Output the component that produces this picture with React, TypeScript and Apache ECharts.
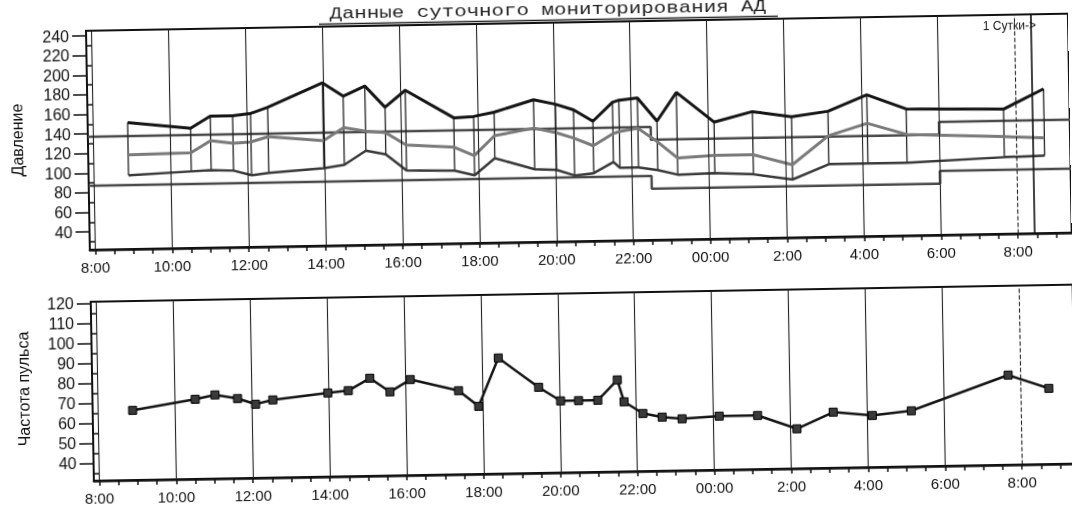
import React, { useEffect, useRef } from "react";
import * as echarts from "echarts";

const titleText = "Данные суточного мониторирования АД";
const pressureAxisName = "Давление";
const pulseAxisName = "Частота пульса";
const dayMarkLabel = "1 Сутки->";
const dayMarkTime = "08:25";

const xTickLabels = ["8:00", "10:00", "12:00", "14:00", "16:00", "18:00", "20:00", "22:00", "00:00", "2:00", "4:00", "6:00", "8:00"];
const pressureTickLabels = [40, 60, 80, 100, 120, 140, 160, 180, 200, 220, 240];
const pulseTickLabels = [40, 50, 60, 70, 80, 90, 100, 110, 120];

const measureTimes = ["08:54", "10:32", "11:03", "11:38", "12:06", "12:33", "13:59", "14:31", "15:05", "15:36", "16:08", "17:23", "17:54", "18:26", "19:28", "20:02", "20:30", "21:00", "21:31", "21:41", "22:10", "22:40", "23:11", "00:09", "01:09", "02:10", "03:07", "04:08", "05:09", "07:41", "08:44"];
const systolic = [151, 144, 156, 156, 158, 164, 188, 174, 184, 162, 179, 150, 151, 155, 167, 162, 156, 144, 163, 165, 167, 143, 172, 141, 151, 145, 150, 166, 151, 149, 169];
const meanPressure = [118, 119, 131, 128, 129, 134, 129, 142, 138, 136, 123, 120, 111, 131, 138, 133, 127, 119, 131, 133, 136, 122, 105, 107, 107, 96, 125, 137, 125, 121, 119];
const diastolic = [97, 100, 101, 100, 95, 97, 101, 104, 118, 114, 97, 96, 91, 108, 96, 95, 89, 91, 102, 96, 96, 93, 88, 89, 87, 81, 96, 96, 96, 100, 101];
const pulse = [66, 71, 73, 71, 68, 70, 73, 74, 80, 73, 79, 73, 65, 89, 74, 67, 67, 67, 77, 66, 60, 58, 57, 58, 58, 51, 59, 57, 59, 76, 69];

const limitStarts = ["08:00", "22:30", "06:00"];
const systolicLimits = [137, 124, 137];
const diastolicLimits = [87, 74, 87];

const X_MIN = -0.14;
const X_MAX = 25.4;

function toHours(list: string[]): number[] {
  let offset = 0;
  let prev = -Infinity;
  return list.map((s) => {
    const [hh, mm] = s.split(":").map(Number);
    const raw = hh + mm / 60 - 8;
    let v = raw + offset;
    while (v < prev) {
      offset += 24;
      v = raw + offset;
    }
    prev = v;
    return v;
  });
}

const measureH = toHours(measureTimes);
const limitH = toHours(limitStarts);
const dayMarkH = toHours(["08:00", "23:00", dayMarkTime])[2];

const labelVals = xTickLabels.map((_, i) => i * 2);
const halfHours = Array.from({ length: 51 }, (_, i) => i * 0.5);

const FONT = "Liberation Sans, Arial, sans-serif";

function stepData(limits: number[]) {
  const pts: number[][] = limits.map((v, i) => [i === 0 ? X_MIN : limitH[i], v]);
  pts.push([X_MAX, limits[limits.length - 1]]);
  return pts;
}

function xAxisCfg(gridIndex: number) {
  return {
    type: "value",
    gridIndex,
    min: X_MIN,
    max: X_MAX,
    axisLine: { show: true, onZero: false, lineStyle: { color: "#111", width: 2.5 } },
    axisTick: { show: true, customValues: halfHours, length: 5, lineStyle: { color: "#111", width: 1.5 } },
    axisLabel: {
      show: true,
      customValues: labelVals,
      formatter: (v: number) => xTickLabels[Math.round(v / 2)] ?? "",
      margin: 10,
      fontSize: 15,
      fontFamily: FONT,
      color: "#111",
    },
    splitLine: { show: false },
  };
}

function yAxisCfg(gridIndex: number, min: number, max: number, labels: number[]) {
  return {
    type: "value",
    gridIndex,
    min,
    max,
    position: "left",
    axisLine: { show: true, onZero: false, lineStyle: { color: "#111", width: 2 } },
    axisTick: { show: true, customValues: labels, length: 14, lineStyle: { color: "#111", width: 1.5 } },
    axisLabel: { show: true, customValues: labels, margin: 17, fontSize: 16, fontFamily: FONT, color: "#111" },
    splitLine: { show: false },
  };
}

function yMinorCfg(gridIndex: number, min: number, max: number, ticks: number[]) {
  return {
    type: "value",
    gridIndex,
    min,
    max,
    position: "left",
    offset: 0,
    axisLine: { show: false },
    axisTick: { show: true, customValues: ticks, length: 6, lineStyle: { color: "#111", width: 1.5 } },
    axisLabel: { show: false },
    splitLine: { show: false },
  };
}

function gridLines(withDayMark: boolean) {
  const d: any[] = labelVals.map((v) => ({
    xAxis: v,
    lineStyle: { color: "#222", width: 1.1, type: v === 24 ? "dashed" : "solid" },
  }));
  if (withDayMark) d.push({ xAxis: dayMarkH, lineStyle: { color: "#111", width: 1.6, type: "solid" } });
  return d;
}

export default function App() {
  const ref = useRef<HTMLDivElement>(null);
  useEffect(() => {
    const chart = echarts.init(ref.current!, null, { renderer: "svg" });
    const option: any = {
      animation: false,
      backgroundColor: "#fff",
      grid: [
        { left: 90, top: 23, right: -10, height: 219, show: true, borderColor: "#111", borderWidth: 2 },
        { left: 90, top: 294, right: -10, height: 179, show: true, borderColor: "#111", borderWidth: 2 },
      ],
      xAxis: [xAxisCfg(0), xAxisCfg(1)],
      yAxis: [
        yAxisCfg(0, 21.8, 245.3, pressureTickLabels),
        yMinorCfg(0, 21.8, 245.3, pressureTickLabels.map((v) => v - 10)),
        yAxisCfg(1, 31.15, 120.65, pulseTickLabels),
        yMinorCfg(1, 31.15, 120.65, pulseTickLabels.map((v) => v - 5)),
      ],
      graphic: [
        {
          type: "text",
          x: 552,
          y: 11,
          scaleX: 1.3,
          style: { text: titleText, font: "16px 'Liberation Mono', monospace", fill: "#222", align: "center", verticalAlign: "middle" },
        },
        { type: "line", shape: { x1: 323, y1: 20.5, x2: 782, y2: 20.5 }, style: { stroke: "#222", lineWidth: 1.5 } },
        {
          type: "text",
          x: 19,
          y: 131,
          rotation: Math.PI / 2,
          style: { text: pressureAxisName, font: `16px ${FONT}`, fill: "#111", align: "center", verticalAlign: "middle" },
        },
        {
          type: "text",
          x: 21,
          y: 380,
          rotation: Math.PI / 2,
          style: { text: pulseAxisName, font: `16px ${FONT}`, fill: "#111", align: "center", verticalAlign: "middle" },
        },
        {
          type: "text",
          x: 1040,
          y: 34,
          style: { text: dayMarkLabel, font: `12px ${FONT}`, fill: "#111", align: "right", verticalAlign: "middle" },
        },
      ],
      series: [
        {
          type: "line",
          xAxisIndex: 0,
          yAxisIndex: 0,
          data: [],
          z: 1,
          markLine: { silent: true, symbol: ["none", "none"], label: { show: false }, data: gridLines(true) },
        },
        {
          type: "line",
          xAxisIndex: 0,
          yAxisIndex: 0,
          step: "end",
          showSymbol: false,
          z: 2,
          data: stepData(systolicLimits),
          lineStyle: { color: "#4a4a4a", width: 2.5 },
        },
        {
          type: "line",
          xAxisIndex: 0,
          yAxisIndex: 0,
          step: "end",
          showSymbol: false,
          z: 2,
          data: stepData(diastolicLimits),
          lineStyle: { color: "#4a4a4a", width: 2.5 },
        },
        {
          type: "custom",
          xAxisIndex: 0,
          yAxisIndex: 0,
          z: 3,
          data: measureH.map((t, i) => [t, systolic[i], diastolic[i]]),
          encode: { x: 0, y: [1, 2] },
          renderItem: (_p: any, api: any) => {
            const a = api.coord([api.value(0), api.value(1)]);
            const b = api.coord([api.value(0), api.value(2)]);
            return { type: "line", shape: { x1: a[0], y1: a[1], x2: b[0], y2: b[1] }, style: { stroke: "#222", lineWidth: 1.3 } };
          },
        },
        {
          type: "line",
          xAxisIndex: 0,
          yAxisIndex: 0,
          showSymbol: false,
          z: 4,
          data: measureH.map((t, i) => [t, meanPressure[i]]),
          lineStyle: { color: "#7a7a7a", width: 3 },
        },
        {
          type: "line",
          xAxisIndex: 0,
          yAxisIndex: 0,
          showSymbol: false,
          z: 4,
          data: measureH.map((t, i) => [t, diastolic[i]]),
          lineStyle: { color: "#3a3a3a", width: 2.5 },
        },
        {
          type: "line",
          xAxisIndex: 0,
          yAxisIndex: 0,
          showSymbol: false,
          z: 5,
          data: measureH.map((t, i) => [t, systolic[i]]),
          lineStyle: { color: "#151515", width: 3 },
        },
        {
          type: "line",
          xAxisIndex: 1,
          yAxisIndex: 2,
          data: [],
          z: 1,
          markLine: { silent: true, symbol: ["none", "none"], label: { show: false }, data: gridLines(false) },
        },
        {
          type: "line",
          xAxisIndex: 1,
          yAxisIndex: 2,
          z: 5,
          symbol: "rect",
          symbolSize: 8,
          data: measureH.map((t, i) => [t, pulse[i]]),
          lineStyle: { color: "#151515", width: 2.5 },
          itemStyle: { color: "#3a3a3a", borderColor: "#000", borderWidth: 1 },
        },
      ],
    };
    chart.setOption(option);
    return () => chart.dispose();
  }, []);
  return (
    <div
      ref={ref}
      style={{ position: "fixed", left: 0, top: 0, width: 1072, height: 510, background: "#fff", transform: "rotate(-1deg)" }}
    />
  );
}
